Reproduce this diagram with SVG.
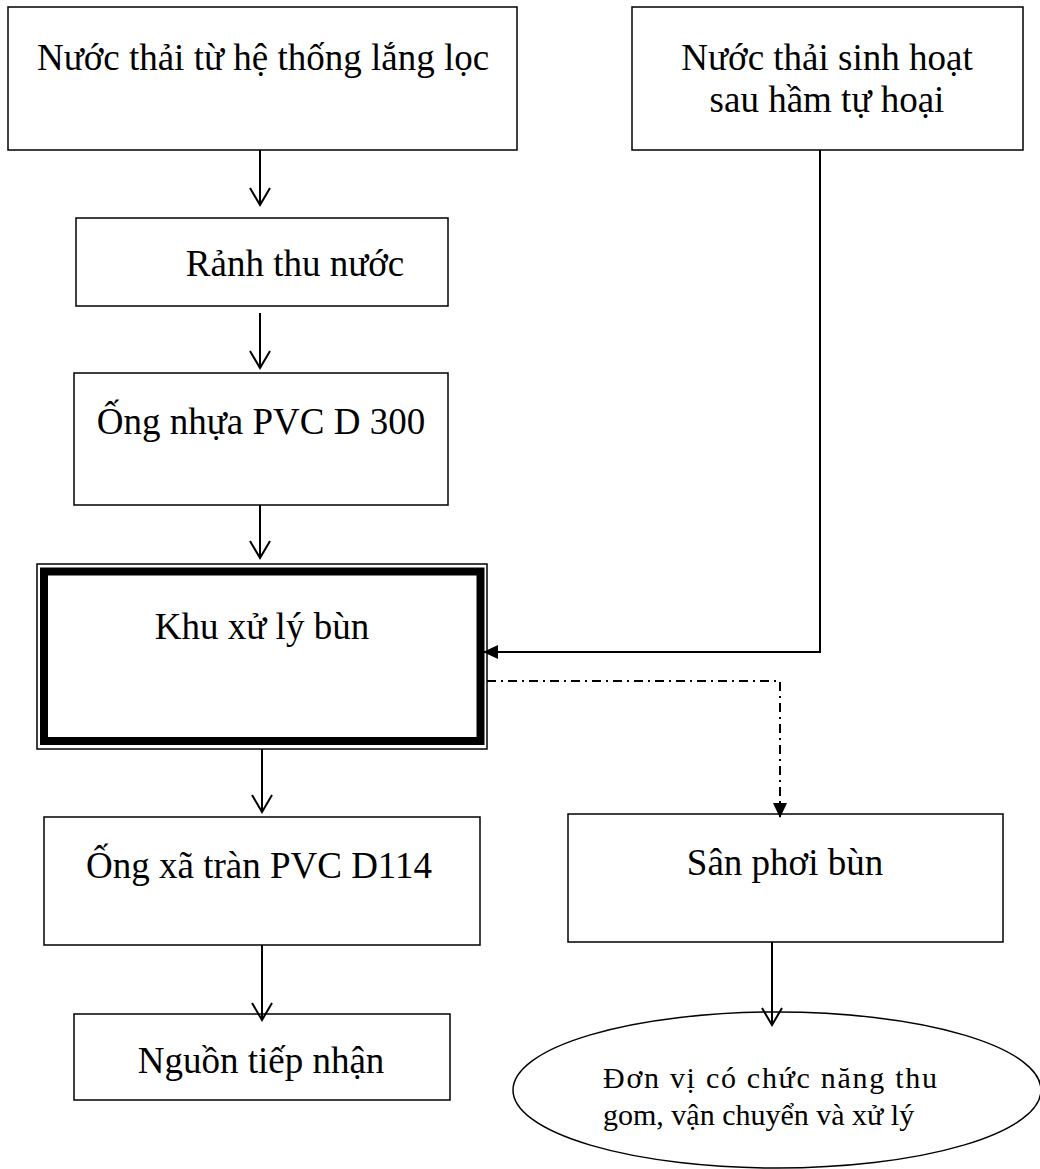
<svg xmlns="http://www.w3.org/2000/svg" width="1040" height="1169" viewBox="0 0 1040 1169">
<style>
.box{fill:#fff;stroke:#000;stroke-width:1.5}
.t{font-family:"Liberation Serif","Times New Roman",serif;font-size:37px;fill:#000}
.ts{font-family:"Liberation Serif","Times New Roman",serif;font-size:30px;fill:#000}
.c{fill:none;stroke:#000;stroke-width:2}
.dd{fill:none;stroke:#000;stroke-width:2;stroke-dasharray:9 5 2 5}
</style>
<defs>
<marker id="open" markerUnits="userSpaceOnUse" orient="auto" markerWidth="40" markerHeight="40" refX="0" refY="0" viewBox="-20 -20 40 40" overflow="visible">
<path d="M-17,-10 L0,0 L-17,10" fill="none" stroke="#000" stroke-width="2"/>
</marker>
<marker id="fill" markerUnits="userSpaceOnUse" orient="auto" markerWidth="40" markerHeight="40" refX="0" refY="0" viewBox="-20 -20 40 40" overflow="visible">
<path d="M-15,-7 L0,0 L-15,7 Z" fill="#000" stroke="none"/>
</marker>
</defs>
<rect width="1040" height="1169" fill="#fff"/>
<g id="n1"><rect class="box" x="8" y="7" width="509" height="143"/><text class="t" x="263" y="70" text-anchor="middle">Nước thải từ hệ thống lắng lọc</text></g>
<g id="n2"><rect class="box" x="632" y="7" width="391" height="143"/><text class="t" x="827" y="70" text-anchor="middle">Nước thải sinh hoạt</text><text class="t" x="827" y="112" text-anchor="middle">sau hầm tự hoại</text></g>
<g id="n3"><rect class="box" x="76" y="218" width="372" height="88"/><text class="t" x="295" y="276" text-anchor="middle">Rảnh thu nước</text></g>
<g id="n4"><rect class="box" x="74" y="373" width="374" height="132"/><text class="t" x="261" y="434" text-anchor="middle">Ống nhựa PVC D 300</text></g>
<g id="n5"><rect fill="#fff" stroke="#000" stroke-width="1.5" x="37" y="564" width="450" height="185"/><rect fill="#fff" stroke="#000" stroke-width="8" x="44" y="571.5" width="436.5" height="169.5"/><text class="t" x="262" y="639" text-anchor="middle">Khu xử lý bùn</text></g>
<g id="n6"><rect class="box" x="44" y="817" width="436" height="128"/><text class="t" x="259" y="878" text-anchor="middle">Ống xã tràn PVC D114</text></g>
<g id="n7"><rect class="box" x="74" y="1014" width="376" height="86"/><text class="t" x="261" y="1073" text-anchor="middle">Nguồn tiếp nhận</text></g>
<g id="n8"><rect class="box" x="568" y="814" width="435" height="128"/><text class="t" x="785" y="875" text-anchor="middle">Sân phơi bùn</text></g>
<g id="n9"><ellipse fill="#fff" stroke="#000" stroke-width="1.5" cx="777" cy="1090" rx="264" ry="78"/><text class="ts" x="603" y="1088" textLength="334" lengthAdjust="spacing">Đơn vị có chức năng thu</text><text class="ts" x="603" y="1125">gom, vận chuyển và xử lý</text></g>
<g id="connectors">
<path class="c" d="M260,150 L260,205" marker-end="url(#open)"/>
<path class="c" d="M260,313 L260,368" marker-end="url(#open)"/>
<path class="c" d="M260,505 L260,558" marker-end="url(#open)"/>
<path class="c" d="M262,749 L262,812" marker-end="url(#open)"/>
<path class="c" d="M262,945 L262,1020" marker-end="url(#open)"/>
<path class="c" d="M820,150 L820,652 L483,652" marker-end="url(#fill)"/>
<path class="dd" d="M487,681 L780,681 L780,818" marker-end="url(#fill)"/>
<path class="c" d="M772,942 L772,1025" marker-end="url(#open)"/>
</g>
</svg>
